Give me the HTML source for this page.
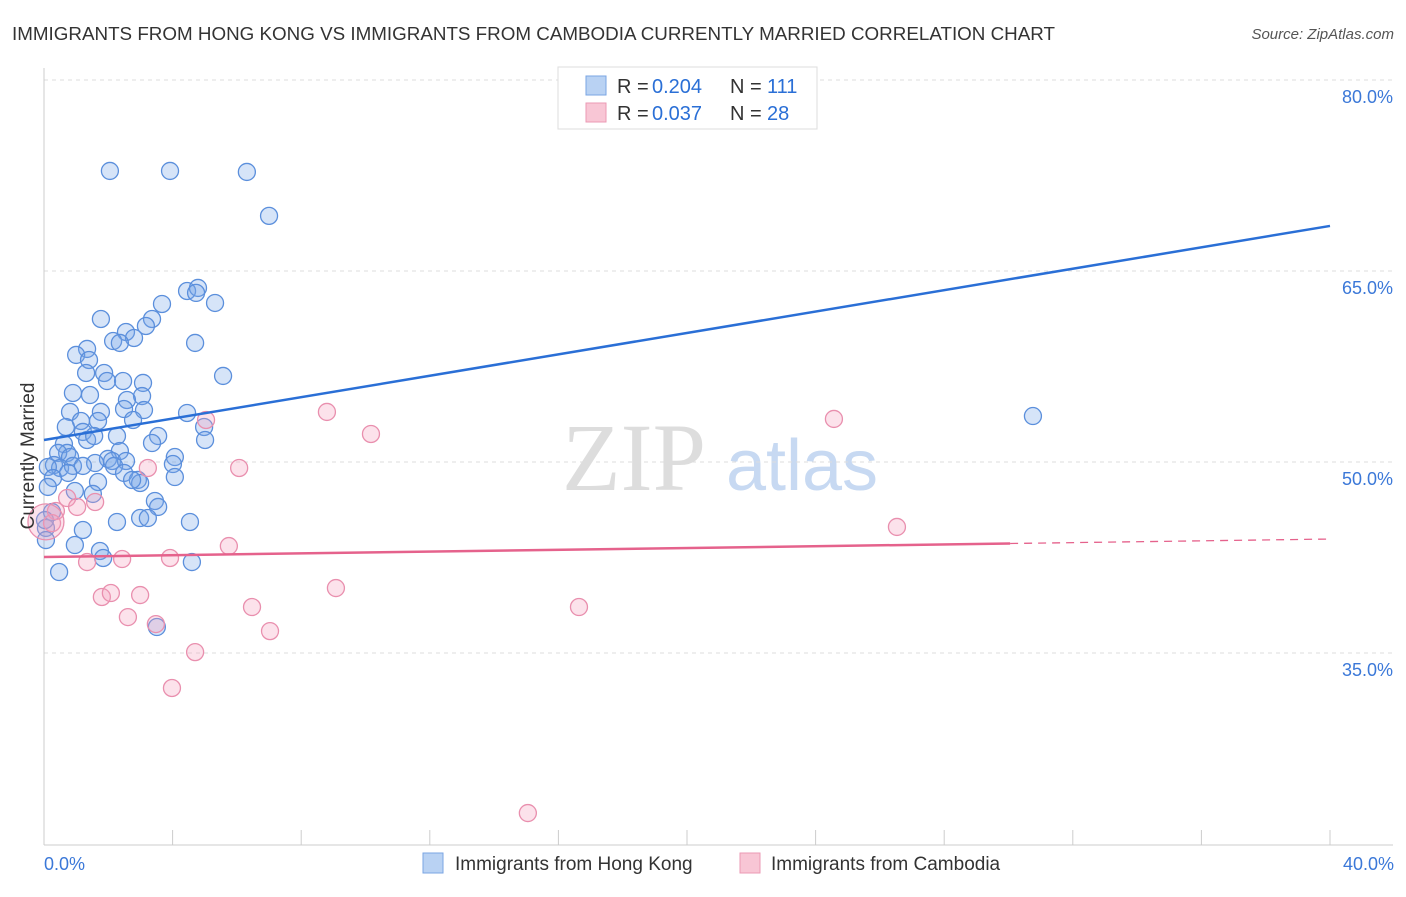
<!DOCTYPE html>
<html><head><meta charset="utf-8">
<style>
body{margin:0;background:#fff;font-family:"Liberation Sans",sans-serif;}
svg text{font-family:"Liberation Sans",sans-serif;}
</style></head>
<body>
<svg id="chart" width="1406" height="892" xmlns="http://www.w3.org/2000/svg">
<text x="12" y="40" font-size="18" fill="#333" textLength="1043" lengthAdjust="spacingAndGlyphs">IMMIGRANTS FROM HONG KONG VS IMMIGRANTS FROM CAMBODIA CURRENTLY MARRIED CORRELATION CHART</text>
<text x="1394" y="39" font-size="15" fill="#555" text-anchor="end" font-style="italic">Source: ZipAtlas.com</text>
<g>
<text x="634" y="490" font-size="96" fill="#ddd" text-anchor="middle" style="font-family:'Liberation Serif',serif">ZIP</text>
<text x="802" y="490" font-size="72" fill="#c7d9f2" text-anchor="middle">atlas</text>
</g>
<g id="grid"></g>
<g id="axes"></g>
<g id="points"></g>
<g id="lines"></g>
<text transform="translate(34,456) rotate(-90)" font-size="19" fill="#333" text-anchor="middle">Currently Married</text>
<g>
<rect x="558" y="67" width="259" height="62" fill="#fff" stroke="#ddd"/>
<rect x="586" y="76" width="20" height="19" fill="#b9d2f3" stroke="#7aa5e3"/>
<rect x="586" y="103" width="20" height="19" fill="#f8c6d5" stroke="#eb9ab4"/>
<text x="617" y="93" font-size="20" fill="#333">R =</text>
<text x="652" y="93" font-size="20" fill="#2a6fd6">0.204</text>
<text x="730" y="93" font-size="20" fill="#333">N =</text>
<text x="767" y="93" font-size="20" fill="#2a6fd6">111</text>
<text x="617" y="120" font-size="20" fill="#333">R =</text>
<text x="652" y="120" font-size="20" fill="#2a6fd6">0.037</text>
<text x="730" y="120" font-size="20" fill="#333">N =</text>
<text x="767" y="120" font-size="20" fill="#2a6fd6">28</text>
</g>
<g>
<rect x="423" y="853" width="20" height="20" fill="#b9d2f3" stroke="#7aa5e3"/>
<text x="455" y="870" font-size="19" fill="#333">Immigrants from Hong Kong</text>
<rect x="740" y="853" width="20" height="20" fill="#f8c6d5" stroke="#eb9ab4"/>
<text x="771" y="870" font-size="19" fill="#333">Immigrants from Cambodia</text>
</g>
</svg>
<script>
const blueX=[2.05,3.92,6.31,7.0,4.45,4.79,4.73,5.32,3.67,1.77,3.36,3.17,2.55,2.8,2.15,2.36,4.7,1.34,1.0,1.4,5.57,1.31,1.87,1.96,2.46,3.08,0.9,1.43,3.05,2.58,2.49,1.77,0.81,3.11,4.45,1.15,1.68,2.77,0.68,4.98,1.21,2.27,1.34,1.56,0.62,3.55,3.36,5.01,0.72,2.36,0.44,0.81,1.99,4.07,4.01,2.12,2.55,1.59,0.31,0.5,0.12,0.9,1.21,2.18,2.49,0.75,0.28,2.92,2.99,1.68,2.74,4.07,0.12,0.96,1.52,3.45,3.55,0.25,2.99,3.23,2.27,4.54,1.21,0.06,0.96,1.74,1.84,4.6,0.47,3.51,30.76,0.06,0.03];
const blueY=[72.86,72.86,72.78,69.33,63.43,63.67,63.28,62.49,62.41,61.23,61.23,60.68,60.21,59.74,59.5,59.35,59.35,58.88,58.41,58.01,56.76,56.99,56.99,56.36,56.36,56.21,55.42,55.26,55.18,54.87,54.16,53.93,53.93,54.08,53.85,53.22,53.22,53.3,52.75,52.75,52.36,52.04,51.73,52.04,51.41,52.04,51.49,51.73,50.71,50.86,50.71,50.39,50.24,50.39,49.84,50.08,50.08,49.92,49.76,49.53,49.61,49.69,49.69,49.69,49.14,49.14,48.74,48.59,48.35,48.43,48.59,48.82,48.04,47.72,47.49,46.94,46.47,46.07,45.6,45.6,45.29,45.29,44.66,44.82,43.48,43.01,42.46,42.14,41.36,37.04,53.61,43.87,45.44];
const pinkX=[5.04,8.8,10.17,3.23,6.07,24.57,26.53,0.72,1.59,1.03,0.37,0.25,5.75,2.43,3.92,1.34,1.8,2.08,2.99,9.08,6.47,16.64,2.61,3.48,7.03,4.7,3.98,15.05,0.06];
const pinkY=[53.3,53.93,52.2,49.53,49.53,53.38,44.9,47.17,46.86,46.47,46.15,45.2,43.4,42.38,42.46,42.14,39.4,39.71,39.55,40.1,38.61,38.61,37.82,37.27,36.72,35.07,32.25,22.43,45.3];
const blueTrend=[51.73,68.54];
const pinkTrend=[42.54,43.95];
const pinkSolidEnd=30.05;
const yTicks=[35,50,65,80];
const xTickCount=10;

const NS="http://www.w3.org/2000/svg";
const X0=44,X1=1330,XMAX=40;
const sx=v=>X0+(X1-X0)*v/XMAX;
const sy=v=>462-(v-50)*12.733;
function mk(tag,attrs,parent){const e=document.createElementNS(NS,tag);for(const k in attrs)e.setAttribute(k,attrs[k]);parent.appendChild(e);return e;}
const grid=document.getElementById('grid'),axes=document.getElementById('axes'),pts=document.getElementById('points'),lines=document.getElementById('lines');
yTicks.forEach(t=>{
 const l=mk('line',{x1:X0,x2:1393,y1:sy(t),y2:sy(t),stroke:'#ddd','stroke-dasharray':'4,4'},grid);
 
 
 const tx=mk('text',{x:1393,y:sy(t)+23,'font-size':18,fill:'#3b78d8','text-anchor':'end'},grid);
 tx.textContent=t.toFixed(1)+'%';
 
 
});
const ya=mk('line',{x1:X0,x2:X0,y1:68,y2:845,stroke:'#ccc'},axes);


const xa=mk('line',{x1:X0,x2:1393,y1:845,y2:845,stroke:'#ccc'},axes);


for(let i=0;i<=xTickCount;i++){
 const v=XMAX*i/xTickCount;
 const tk=mk('line',{x1:sx(v),x2:sx(v),y1:830,y2:845,stroke:'#ccc'},axes);
 
 
}
const xl0=mk('text',{x:44,y:870,'font-size':18,fill:'#3b78d8'},axes);xl0.textContent='0.0%';


const xl1=mk('text',{x:1394,y:870,'font-size':18,fill:'#3b78d8','text-anchor':'end'},axes);xl1.textContent=XMAX.toFixed(1)+'%';


blueX.forEach((x,i)=>{
 const c=mk('circle',{cx:sx(x),cy:sy(blueY[i]),r:8.5,fill:'rgba(120,165,232,0.3)',stroke:'#5b8fdc','stroke-width':1.3},pts);
 
 
});
pinkX.forEach((x,i)=>{
 const big=i===pinkX.length-1;
 const c=mk('circle',{cx:sx(x),cy:sy(pinkY[i]),r:big?18:8.5,fill:'rgba(244,160,188,0.3)',stroke:'#e98fae','stroke-width':1.3},pts);
 
 
});
const bl=mk('line',{x1:sx(0),y1:sy(blueTrend[0]),x2:sx(XMAX),y2:sy(blueTrend[1]),stroke:'#2a6fd6','stroke-width':2.5},lines);


const pAt=x=>pinkTrend[0]+(pinkTrend[1]-pinkTrend[0])*x/XMAX;
const pl=mk('line',{x1:sx(0),y1:sy(pinkTrend[0]),x2:sx(pinkSolidEnd),y2:sy(pAt(pinkSolidEnd)),stroke:'#e5628c','stroke-width':2.5},lines);


const pd=mk('line',{x1:sx(pinkSolidEnd),y1:sy(pAt(pinkSolidEnd)),x2:sx(XMAX),y2:sy(pinkTrend[1]),stroke:'#e5628c','stroke-width':1.3,'stroke-dasharray':'8,6'},lines);


</script>
</body></html>
